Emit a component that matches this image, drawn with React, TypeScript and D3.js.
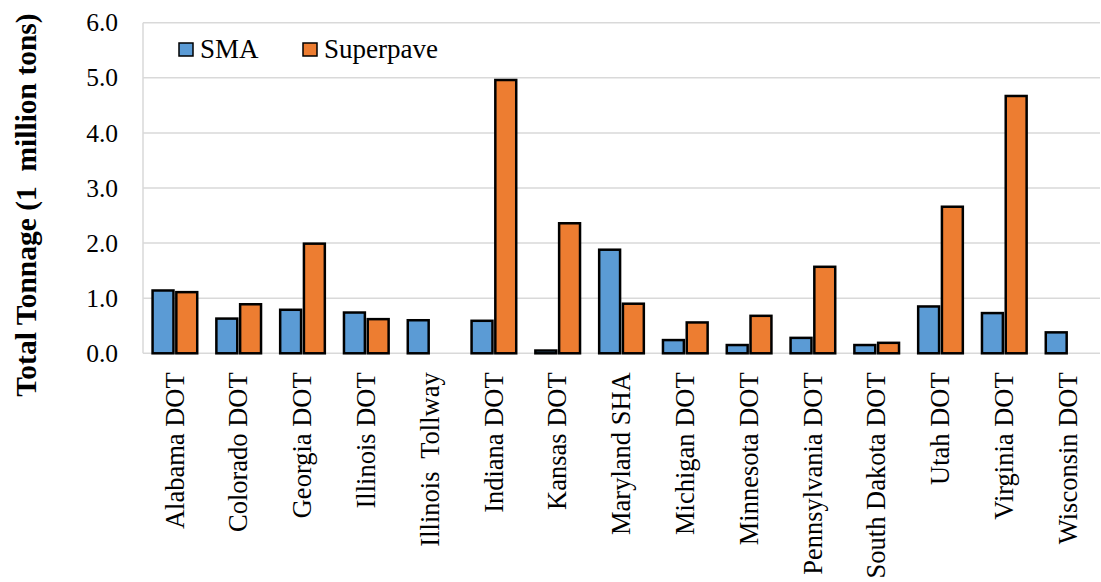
// @ts-nocheck
import * as d3 from "d3";
import { useRef, useEffect } from "react";

const agencies = [
  "Alabama DOT",
  "Colorado DOT",
  "Georgia DOT",
  "Illinois DOT",
  "Illinois  Tollway",
  "Indiana DOT",
  "Kansas DOT",
  "Maryland SHA",
  "Michigan DOT",
  "Minnesota DOT",
  "Pennsylvania DOT",
  "South Dakota DOT",
  "Utah DOT",
  "Virginia DOT",
  "Wisconsin DOT",
];
const smaValues = [1.14, 0.63, 0.79, 0.74, 0.6, 0.59, 0.05, 1.88, 0.24, 0.15, 0.28, 0.15, 0.85, 0.73, 0.38];
const superpaveValues = [1.11, 0.89, 1.99, 0.62, 0, 4.96, 2.36, 0.9, 0.56, 0.68, 1.57, 0.19, 2.66, 4.67, 0];
const seriesNames = ["SMA", "Superpave"];
const seriesColors = ["#5B9BD5", "#ED7D31"];
const yTicks = [0, 1, 2, 3, 4, 5, 6];

const width = 1101;
const height = 582;
const marginLeft = 143;
const marginRight = 1;
const marginTop = 22.7;
const marginBottom = 582 - 353.3;
const font = "'Liberation Serif', 'Times New Roman', serif";

export default function App() {
  const gx = useRef();
  const gy = useRef();

  const x = d3
    .scaleBand()
    .domain(agencies)
    .range([marginLeft, width - marginRight])
    .paddingInner(0.3)
    .paddingOuter(0.15);
  const x1 = d3.scaleBand().domain(seriesNames).range([0, x.bandwidth()]).paddingInner(0.12);
  const y = d3.scaleLinear([0, 6], [height - marginBottom, marginTop]);

  useEffect(() => {
    const g = d3.select(gx.current);
    g.call(d3.axisBottom(x).tickSize(0).tickSizeOuter(0));
    g.select(".domain").remove();
    g.selectAll("text")
      .attr("transform", "rotate(-90)")
      .attr("text-anchor", "end")
      .attr("x", -19)
      .attr("y", 0)
      .attr("dy", "0.33em")
      .attr("font-family", font)
      .attr("font-size", 26.5)
      .attr("fill", "#000")
      .style("white-space", "pre");
  }, []);

  useEffect(() => {
    const g = d3.select(gy.current);
    g.call(d3.axisLeft(y).tickValues(yTicks).tickFormat(d3.format(".1f")).tickSize(0));
    g.select(".domain").remove();
    g.selectAll("text")
      .attr("x", -25)
      .attr("font-family", font)
      .attr("font-size", 25.5)
      .attr("fill", "#000");
  }, []);

  const series = [smaValues, superpaveValues];

  return (
    <svg
      width={width}
      height={height}
      style={{ position: "absolute", left: 0, top: 0, background: "#fff" }}
    >
      {yTicks.map((t) => (
        <line
          key={t}
          x1={marginLeft}
          x2={width - marginRight}
          y1={y(t)}
          y2={y(t)}
          stroke="#D9D9D9"
          strokeWidth={1.5}
        />
      ))}
      <line
        x1={marginLeft}
        x2={marginLeft}
        y1={y(6)}
        y2={y(0)}
        stroke="#D9D9D9"
        strokeWidth={1.5}
      />
      <g ref={gy} transform={`translate(${marginLeft},0)`} />
      <g ref={gx} transform={`translate(0,${height - marginBottom})`} />
      {agencies.map((a, i) => (
        <g key={a} transform={`translate(${x(a)},0)`}>
          {series.map((vals, s) =>
            vals[i] > 0 ? (
              <rect
                key={s}
                x={x1(seriesNames[s])}
                y={y(vals[i])}
                width={x1.bandwidth()}
                height={y(0) - y(vals[i])}
                fill={seriesColors[s]}
                stroke="#000"
                strokeWidth={2.5}
              />
            ) : null
          )}
        </g>
      ))}
      <text
        transform={`translate(36,205) rotate(-90)`}
        textAnchor="middle"
        fontFamily={font}
        fontWeight="bold"
        fontSize={29.5}
        fill="#000"
        style={{ whiteSpace: "pre" }}
      >
        Total Tonnage (1  million tons)
      </text>
      <g fontFamily={font} fontSize={27} fill="#000">
        {seriesNames.map((n, s) => {
          const lx = s === 0 ? 179 : 303;
          return (
            <g key={n}>
              <rect
                x={lx}
                y={43}
                width={14}
                height={13}
                fill={seriesColors[s]}
                stroke="#000"
                strokeWidth={1.5}
              />
              <text x={lx + 21} y={58}>
                {n}
              </text>
            </g>
          );
        })}
      </g>
    </svg>
  );
}
